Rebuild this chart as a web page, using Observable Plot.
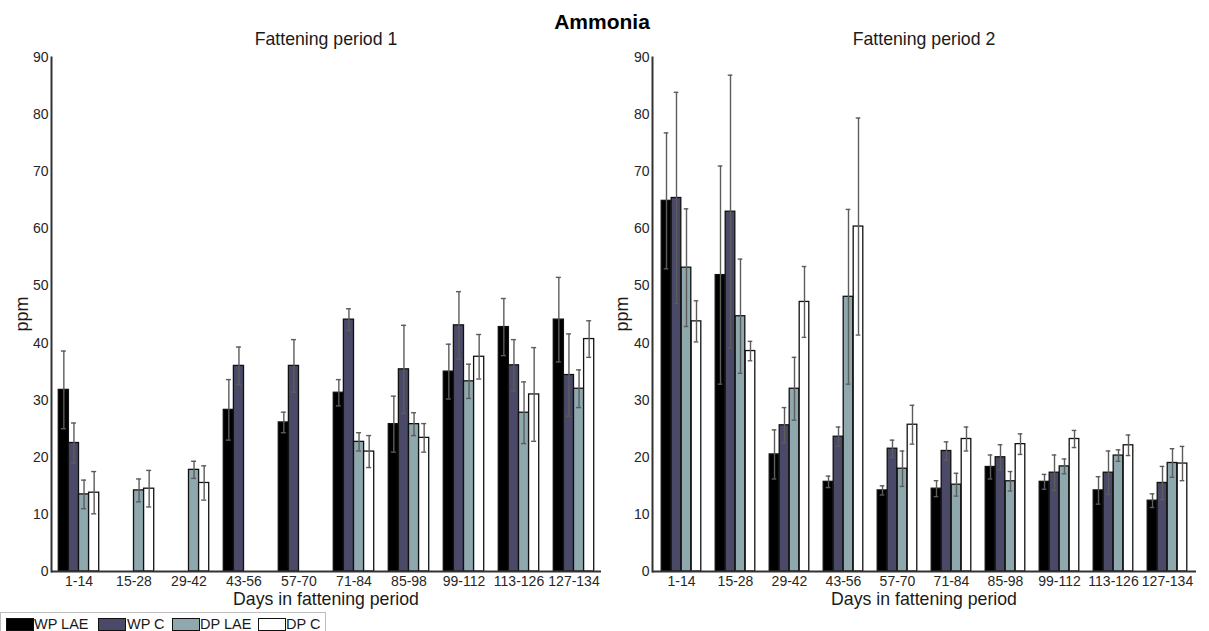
<!DOCTYPE html>
<html>
<head>
<meta charset="utf-8">
<script src="https://cdn.jsdelivr.net/npm/d3@7"></script>
<script src="https://cdn.jsdelivr.net/npm/@observablehq/plot@0.6"></script>
<style>
  html, body { margin: 0; padding: 0; background: #fff; }
  #root { position: relative; width: 1209px; height: 631px; overflow: hidden; background: #fff;
          font-family: "Liberation Sans", Arial, sans-serif; color: #1a1a1a; }
  .abs { position: absolute; white-space: nowrap; }
  .title { font-weight: bold; font-size: 21px; color: #000; }
  .sub { font-size: 17.7px; }
  .axt { font-size: 17.7px; }
  .ppm { font-size: 18px; transform: translate(-50%, -50%) rotate(-90deg); }
  .plot { position: absolute; top: 0; }
  #legend { position: absolute; left: 0; top: 612px; width: 326px; height: 30px;
            border: 1px solid #bdbdbd; box-sizing: border-box; }
  .sw { position: absolute; top: 5px; width: 26px; height: 11px; border: 1px solid #111; }
  .lt { position: absolute; top: 3px; font-size: 14.5px; line-height: 16px; }
</style>
</head>
<body>
<div id="root"></div>
<script>
// Sampling windows (days in fattening period)
const categories = ["1-14", "15-28", "29-42", "43-56", "57-70", "71-84", "85-98", "99-112", "113-126", "127-134"];
const seriesNames = ["WP LAE", "WP C", "DP LAE", "DP C"];
const seriesFills = ["#000000", "#4a4968", "#8fa8ad", "#ffffff"];

// Fattening period 1 – mean ammonia (ppm) and error
const wpLae1 = [31.8, null, null, 28.3, 26.1, 31.3, 25.8, 35.0, 42.8, 44.1];
const wpLae1Err = [6.8, null, null, 5.3, 1.8, 2.3, 4.9, 4.8, 5.0, 7.4];
const wpC1 = [22.5, null, null, 36.0, 36.0, 44.1, 35.4, 43.1, 36.1, 34.4];
const wpC1Err = [3.5, null, null, 3.3, 4.6, 1.9, 7.7, 5.9, 4.5, 7.2];
const dpLae1 = [13.5, 14.2, 17.8, null, null, 22.7, 25.8, 33.3, 27.8, 32.0];
const dpLae1Err = [2.5, 2.0, 1.5, null, null, 1.6, 2.0, 3.0, 5.4, 3.3];
const dpC1 = [13.8, 14.5, 15.5, null, null, 21.0, 23.4, 37.6, 31.0, 40.7];
const dpC1Err = [3.7, 3.2, 3.0, null, null, 2.8, 2.5, 3.9, 8.2, 3.2];

// Fattening period 2 – mean ammonia (ppm) and error
const wpLae2 = [64.9, 51.9, 20.5, 15.7, 14.2, 14.5, 18.3, 15.7, 14.2, 12.4];
const wpLae2Err = [11.9, 19.1, 4.3, 1.0, 0.8, 1.4, 2.1, 1.3, 2.4, 1.2];
const wpC2 = [65.4, 63.0, 25.6, 23.6, 21.5, 21.1, 20.0, 17.3, 17.3, 15.5];
const wpC2Err = [18.5, 23.9, 3.1, 1.7, 1.5, 1.6, 2.2, 3.1, 3.8, 2.9];
const dpLae2 = [53.2, 44.7, 32.0, 48.1, 18.0, 15.2, 15.8, 18.4, 20.3, 19.0];
const dpLae2Err = [10.3, 10.0, 5.5, 15.3, 3.1, 2.0, 1.7, 1.3, 1.0, 2.5];
const dpC2 = [43.8, 38.6, 47.2, 60.4, 25.7, 23.2, 22.3, 23.2, 22.1, 18.9];
const dpC2Err = [3.6, 1.7, 6.2, 19.0, 3.4, 2.1, 1.8, 1.5, 1.8, 3.0];

const yTicks = [0, 10, 20, 30, 40, 50, 60, 70, 80, 90];

const root = document.getElementById("root");

function addText(cls, text, x, y, extra = "") {
  const el = document.createElement("div");
  el.className = "abs " + cls;
  el.textContent = text;
  el.style.left = x + "px";
  el.style.top = y + "px";
  if (extra) el.style.cssText += extra;
  root.appendChild(el);
  return el;
}

// One grouped bar panel with error bars
function panel({means, errs, left, width, marginLeft, marginRight}) {
  const height = 612, marginTop = 57, marginBottom = 41;
  const bw = (width - marginLeft - marginRight) / categories.length;
  const gw = bw * 0.735;
  const w = gw / 4;
  const errColor = "#5c5c5c";
  const barMarks = [], errMarks = [];
  seriesNames.forEach((name, i) => {
    const rows = categories
      .map((c, j) => ({cat: c, v: means[i][j], e: errs[i][j]}))
      .filter(d => d.v != null);
    const off = (bw - gw) / 2 + i * w;
    const mid = off + w / 2;
    barMarks.push(Plot.barY(rows, {
      x: "cat", y: "v", fill: seriesFills[i], stroke: "#111", strokeWidth: 1.3,
      insetLeft: off, insetRight: bw - off - w
    }));
    errMarks.push(Plot.ruleX(rows, {
      x: "cat", y1: d => d.v - d.e, y2: d => d.v + d.e,
      dx: mid - bw / 2, stroke: errColor, strokeWidth: 1.4
    }));
    for (const edge of [d => d.v + d.e, d => d.v - d.e]) {
      errMarks.push(Plot.tickY(rows, {
        x: "cat", y: edge, stroke: errColor, strokeWidth: 1.4,
        insetLeft: mid - 2.5, insetRight: bw - mid - 2.5
      }));
    }
  });
  const chart = Plot.plot({
    width, height, marginTop, marginBottom, marginLeft, marginRight,
    style: {fontFamily: "'Liberation Sans', Arial, sans-serif", color: "#262626", background: "transparent"},
    x: {domain: categories, padding: 0, label: null},
    y: {domain: [0, 90], label: null},
    marks: [
      ...barMarks,
      ...errMarks,
      Plot.axisX({tickSize: 0, tickPadding: 5, fontSize: 14, label: null}),
      Plot.axisY({ticks: yTicks, tickSize: 0, tickPadding: 3, fontSize: 14, label: null}),
      Plot.ruleY([0], {stroke: "#333", strokeWidth: 2}),
      Plot.frame({anchor: "left", stroke: "#333", strokeWidth: 2})
    ]
  });
  chart.classList.add("plot");
  chart.style.left = left + "px";
  root.appendChild(chart);
}

panel({
  means: [wpLae1, wpC1, dpLae1, dpC1],
  errs: [wpLae1Err, wpC1Err, dpLae1Err, dpC1Err],
  left: 0, width: 604, marginLeft: 51, marginRight: 3
});
panel({
  means: [wpLae2, wpC2, dpLae2, dpC2],
  errs: [wpLae2Err, wpC2Err, dpLae2Err, dpC2Err],
  left: 600, width: 609, marginLeft: 52, marginRight: 13
});

// Titles
addText("title", "Ammonia", 602, 10, "transform: translateX(-50%);");
addText("sub", "Fattening period 1", 326, 29, "transform: translateX(-50%);");
addText("sub", "Fattening period 2", 924, 29, "transform: translateX(-50%);");
addText("axt", "Days in fattening period", 326, 589, "transform: translateX(-50%);");
addText("axt", "Days in fattening period", 924, 589, "transform: translateX(-50%);");
addText("ppm", "ppm", 22, 314);
addText("ppm", "ppm", 622, 314);

// Legend
const legend = document.createElement("div");
legend.id = "legend";
root.appendChild(legend);
const swX = [5, 97, 171, 257];
const txtX = [33, 126, 199, 285];
seriesNames.forEach((name, i) => {
  const sw = document.createElement("div");
  sw.className = "sw";
  sw.style.left = swX[i] + "px";
  sw.style.background = seriesFills[i];
  legend.appendChild(sw);
  const t = document.createElement("div");
  t.className = "lt";
  t.style.left = txtX[i] + "px";
  t.textContent = name;
  legend.appendChild(t);
});
</script>
</body>
</html>
